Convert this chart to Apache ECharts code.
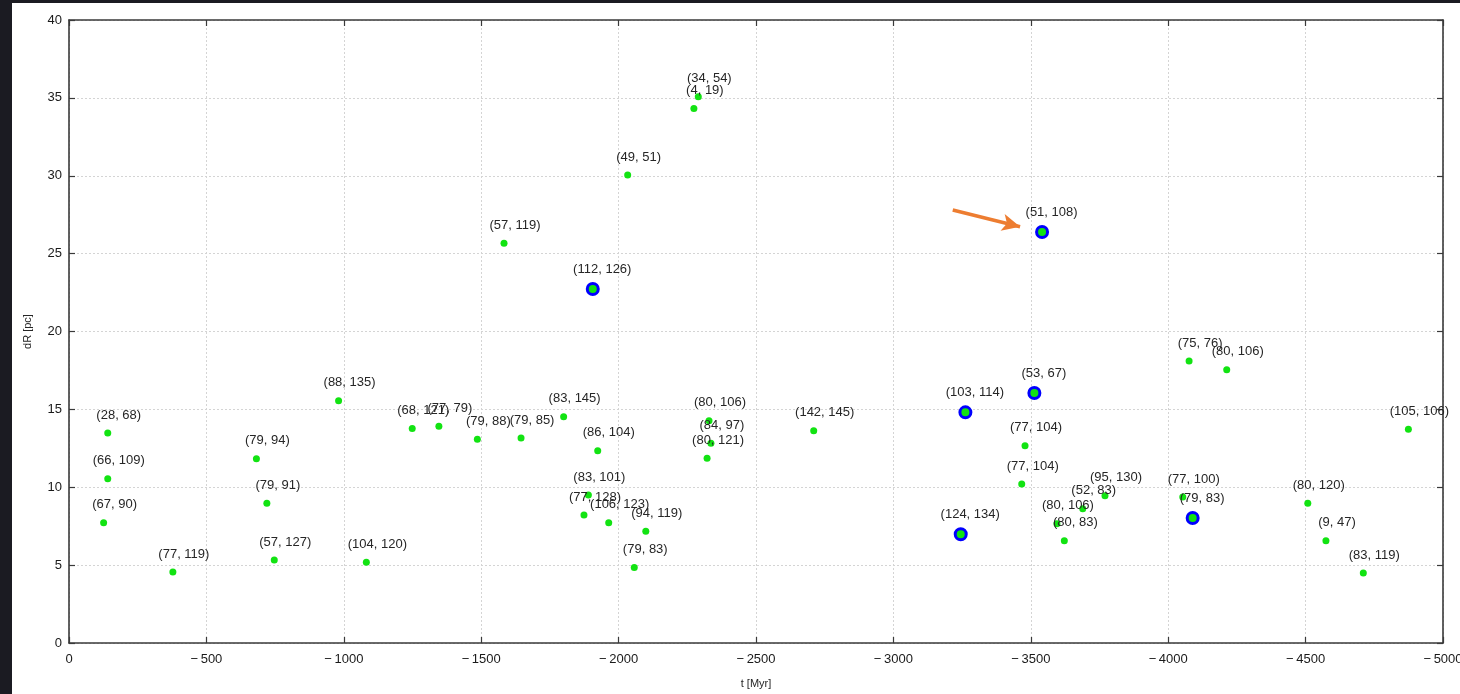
<!DOCTYPE html>
<html>
<head>
<meta charset="utf-8">
<script src="https://cdn.jsdelivr.net/npm/echarts@6/dist/echarts.min.js"></script>
<style>
  html, body { margin: 0; padding: 0; width: 1460px; height: 694px; background: #1b1b22; overflow: hidden; }
  #chart { position: absolute; left: 12px; top: 3px; width: 1448px; height: 691px; background: #ffffff; }
</style>
</head>
<body>
<div id="chart"></div>
<script>
// plain green points: time (Myr), separation (pc), pair tag
const pointT = [
  -141, -141, -126, -378, -682, -720, -747, -981, -1082, -1249,
  -1346, -1486, -1645, -1800, -1924, -1890, -1874, -1964, -2099, -2057,
  -2329, -2336, -2322, -2710, -2290, -2274, -2033, -1583, -3479, -3467,
  -4076, -4213, -4874, -3770, -3689, -3595, -3622, -4053, -4508, -4574,
  -4710,
];
const pointDR = [
  13.48, 10.55, 7.72, 4.56, 11.83, 8.97, 5.33, 15.56, 5.18, 13.78,
  13.91, 13.08, 13.16, 14.53, 12.35, 9.50, 8.22, 7.72, 7.17, 4.84,
  14.27, 12.82, 11.86, 13.63, 35.08, 34.31, 30.05, 25.66, 12.67, 10.21,
  18.11, 17.55, 13.72, 9.46, 8.62, 7.66, 6.57, 9.37, 8.97, 6.57,
  4.49,
];
const pointTags = [
  '(28, 68)', '(66, 109)', '(67, 90)', '(77, 119)', '(79, 94)', '(79, 91)', '(57, 127)', '(88, 135)', '(104, 120)', '(68, 121)',
  '(77, 79)', '(79, 88)', '(79, 85)', '(83, 145)', '(86, 104)', '(83, 101)', '(77, 128)', '(106, 123)', '(94, 119)', '(79, 83)',
  '(80, 106)', '(84, 97)', '(80, 121)', '(142, 145)', '(34, 54)', '(4, 19)', '(49, 51)', '(57, 119)', '(77, 104)', '(77, 104)',
  '(75, 76)', '(80, 106)', '(105, 106)', '(95, 130)', '(52, 83)', '(80, 106)', '(80, 83)', '(77, 100)', '(80, 120)', '(9, 47)',
  '(83, 119)',
];

// highlighted (blue ring) points
const ringT = [-1906, -3262, -3245, -3541, -3513, -4089];
const ringDR = [22.73, 14.81, 6.98, 26.39, 16.05, 8.03];
const ringTags = ['(112, 126)', '(103, 114)', '(124, 134)', '(51, 108)', '(53, 67)', '(79, 83)'];

// arrow pointing at (51, 108): tail, tip in data units
const arrowTail = [-3216, 27.80];
const arrowHead = [-3461, 26.73];

const xTicks = { min: -5000, max: 0, step: 500 };
const yTicks = { min: 0, max: 40, step: 5 };

const FONT = "'Liberation Sans', Arial, sans-serif";

const toPoints = (ts, ds) => ts.map((t, i) => [t, ds[i]]);

// tag sits up and to the right of its marker
const tagLabel = (tags, size) => ({
  show: true,
  position: [size / 2 + 11, size / 2 - 18],
  align: 'center',
  verticalAlign: 'middle',
  formatter: (p) => tags[p.dataIndex],
  color: '#262626',
  fontSize: 13,
  fontFamily: FONT,
});

const minusLabel = (v) => (v === 0 ? '0' : '\u2212\u2009' + Math.abs(v));

const frameLine = { show: true, onZero: false, lineStyle: { color: '#3a3a3a', width: 1.6 } };
const innerTick = { show: true, inside: true, length: 6, lineStyle: { color: '#3a3a3a', width: 1.2 } };
const dotted = { show: true, lineStyle: { color: '#d4d4d4', width: 1, type: [2, 2] } };

const option = {
  animation: false,
  grid: { left: 57, right: 17, top: 17, bottom: 51, containLabel: false, outerBoundsMode: 'none' },
  xAxis: [
    {
      type: 'value',
      position: 'bottom',
      min: xTicks.min,
      max: xTicks.max,
      interval: xTicks.step,
      inverse: true,
      name: 't [Myr]',
      nameLocation: 'middle',
      nameGap: 35,
      nameTextStyle: { color: '#262626', fontSize: 11, fontFamily: FONT },
      axisLine: frameLine,
      axisTick: innerTick,
      axisLabel: { color: '#1a1a1a', fontSize: 13, fontFamily: FONT, margin: 10, formatter: minusLabel },
      splitLine: dotted,
    },
    {
      type: 'value',
      position: 'top',
      min: xTicks.min,
      max: xTicks.max,
      interval: xTicks.step,
      inverse: true,
      axisLine: frameLine,
      axisTick: innerTick,
      axisLabel: { show: false },
      splitLine: { show: false },
    },
  ],
  yAxis: [
    {
      type: 'value',
      position: 'left',
      min: yTicks.min,
      max: yTicks.max,
      interval: yTicks.step,
      name: 'dR [pc]',
      nameLocation: 'middle',
      nameGap: 36,
      nameTextStyle: { color: '#262626', fontSize: 11, fontFamily: FONT },
      axisLine: frameLine,
      axisTick: innerTick,
      axisLabel: { color: '#1a1a1a', fontSize: 13, fontFamily: FONT, margin: 7 },
      splitLine: dotted,
    },
    {
      type: 'value',
      position: 'right',
      min: yTicks.min,
      max: yTicks.max,
      interval: yTicks.step,
      axisLine: frameLine,
      axisTick: innerTick,
      axisLabel: { show: false },
      splitLine: { show: false },
    },
  ],
  series: [
    {
      name: 'pairs',
      type: 'scatter',
      symbol: 'circle',
      symbolSize: 7,
      itemStyle: { color: '#12e312', opacity: 1 },
      label: tagLabel(pointTags, 7),
      labelLayout: { hideOverlap: false },
      data: toPoints(pointT, pointDR),
      markLine: {
        silent: true,
        symbol: ['none', 'arrow'],
        symbolSize: [13, 18],
        label: { show: false },
        lineStyle: { color: '#ed7d31', width: 3.5, type: 'solid' },
        data: [[{ coord: arrowTail }, { coord: arrowHead }]],
      },
    },
    {
      name: 'selected',
      type: 'scatter',
      symbol: 'circle',
      symbolSize: 11,
      itemStyle: { color: '#12e312', borderColor: '#0000ff', borderWidth: 3, opacity: 1 },
      label: tagLabel(ringTags, 11),
      labelLayout: { hideOverlap: false },
      data: toPoints(ringT, ringDR),
    },
  ],
};

const myChart = echarts.init(document.getElementById('chart'));
myChart.setOption(option);
</script>
</body>
</html>
